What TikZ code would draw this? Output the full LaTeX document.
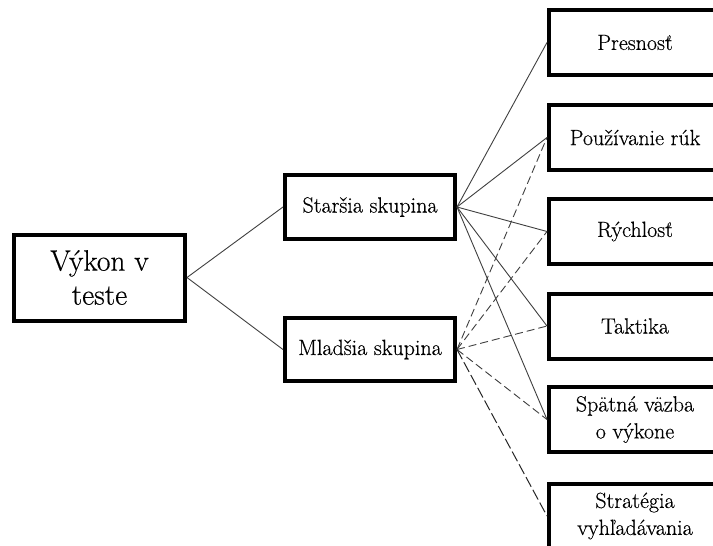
\documentclass[tikz,border=0pt]{standalone}
\usepackage{fontspec}
\setmainfont{Latin Modern Roman}[UprightFeatures={FakeBold=0.4}]
\begin{document}
\begin{tikzpicture}[x=1pt,y=-1pt,
  box/.style={draw=black,line width=4pt,rectangle,inner sep=0pt,align=center,
    font=\fontsize{22}{27}\selectfont},
  rootbox/.style={box,minimum width=171pt,minimum height=86pt,
    font=\fontsize{29.5}{34}\selectfont},
  midbox/.style={box,minimum width=170pt,minimum height=64pt},
  rbox/.style={box,minimum width=172pt,minimum height=65pt},
  solidlink/.style={draw=black!75,line width=0.9pt},
  dashlink/.style={draw=black!75,line width=0.9pt,dash pattern=on 8pt off 4pt},
  longdash/.style={draw=black!85,line width=1pt,dash pattern=on 11pt off 3.5pt}]
\useasboundingbox (0,0) rectangle (713,546);
\clip (0,0) rectangle (713,546);
\fill[white] (0,0) rectangle (713,546);
\node[rootbox] (root) at (99.5,277.5) {Výkon v\\teste};
\node[midbox] (old) at (370,207) {Staršia skupina};
\node[midbox,minimum height=63pt] (young) at (370,349.5) {Mladšia skupina};
\node[rbox] (r1) at (635,42.5) {Presnosť};
\node[rbox] (r2) at (635,137.5) {Používanie rúk};
\node[rbox] (r3) at (635,231.5) {Rýchlosť};
\node[rbox] (r4) at (635,326) {Taktika};
\node[rbox] (r5) at (635,419.5) {Spätná väzba\\o výkone};
\node[rbox,minimum height=64pt] (r6) at (635,516) {Stratégia\\vyhľadávania};
\draw[solidlink] (root.east) -- (old.west);
\draw[solidlink] (root.east) -- (young.west);
\foreach \t in {r1,r2,r3,r4,r5}
  \draw[solidlink] (old.east) -- (\t.west);
\foreach \t in {r2,r3,r4,r5}
  \draw[dashlink] (young.east) -- (\t.west);
\draw[longdash] (young.east) -- (r6.west);
\end{tikzpicture}
\end{document}
